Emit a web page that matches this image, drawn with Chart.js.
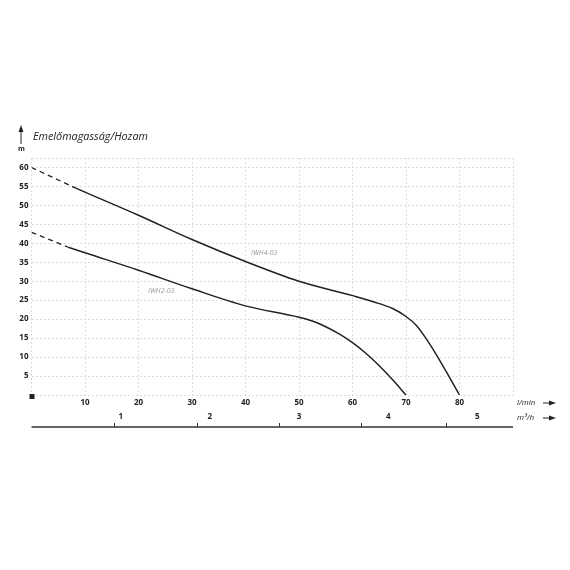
<!DOCTYPE html>
<html>
<head>
<meta charset="utf-8">
<script src="https://cdn.jsdelivr.net/npm/chart.js@4.4.0/dist/chart.umd.min.js"></script>
<style>
    html, body { margin: 0; padding: 0; background: #fff; }
    #wrap { width: 570px; height: 570px; }
</style>
</head>
<body>
<div id="wrap"><canvas id="pump"></canvas></div>
<script>
// Dataset (flow in l/min, head in m)
const iwh4DashFlow = [0, 7.6];
const iwh4DashHead = [60, 55];
const iwh4Flow = [7.6, 10, 20, 30, 40, 50, 60, 65, 67.5, 70, 71.9, 73.7, 75.6, 77.5, 80];
const iwh4Head = [55, 53.5, 47.4, 41, 35.2, 30, 26.2, 24.1, 22.8, 20.7, 18.4, 15, 10.8, 6.2, 0];

const iwh2DashFlow = [0, 7];
const iwh2DashHead = [42.9, 38.9];
const iwh2Flow = [7, 10, 20, 30, 40, 50, 52.5, 55, 57.5, 60, 62.5, 65, 67.5, 70];
const iwh2Head = [38.9, 37.5, 32.9, 28, 23.5, 20.5, 19.5, 18, 16.1, 13.8, 11, 7.7, 4, 0];

// Second axis: m3/h labels and the tick marks under them (marks given in l/min)
const m3hLabels = [1, 2, 3, 4, 5];
const m3hTickMarks = [15.5, 31, 46.3, 61.6, 77.5];

const curveLabels = ["IWH4-03", "IWH2-03"];

// Turn two arrays into {x, y} points
function toPoints(xs, ys) {
    return xs.map((x, i) => ({ x: x, y: ys[i] }));
}

// Extra drawing: title, arrows, unit labels, m3/h line
const extras = {
    id: "extras",
    afterDraw(chart) {
        const ctx = chart.ctx;
        const x = chart.scales.x;
        const y = chart.scales.y;
        ctx.save();

        // Up arrow + title
        ctx.strokeStyle = "#222";
        ctx.fillStyle = "#222";
        ctx.lineWidth = 1;
        ctx.beginPath();
        ctx.moveTo(21, 144);
        ctx.lineTo(21, 130);
        ctx.stroke();
        ctx.beginPath();
        ctx.moveTo(21, 125);
        ctx.lineTo(18.5, 132);
        ctx.lineTo(23.5, 132);
        ctx.closePath();
        ctx.fill();

        ctx.font = "italic 10.8px 'Open Sans'";
        ctx.textBaseline = "middle";
        ctx.textAlign = "left";
        ctx.fillStyle = "#222";
        ctx.fillText("Emelőmagasság/Hozam", 33, 137);

        ctx.font = "bold 7px 'Open Sans'";
        ctx.fillText("m", 18, 149);

        // Origin square
        ctx.fillRect(x.left - 2, y.bottom - 1, 5, 5);

        // Curve names
        ctx.font = "italic 7px 'Open Sans'";
        ctx.fillStyle = "#999";
        ctx.fillText(curveLabels[0], 251, 253);
        ctx.fillText(curveLabels[1], 148, 291);

        // Unit labels with right arrows
        ctx.fillStyle = "#222";
        ctx.font = "italic 8px 'Open Sans'";
        ctx.fillText("l/min", 517, 403);
        ctx.fillText("m³/h", 517, 418);
        [403, 418].forEach(ay => {
            ctx.beginPath();
            ctx.moveTo(543, ay);
            ctx.lineTo(550, ay);
            ctx.stroke();
            ctx.beginPath();
            ctx.moveTo(556, ay);
            ctx.lineTo(549, ay - 2.5);
            ctx.lineTo(549, ay + 2.5);
            ctx.closePath();
            ctx.fill();
        });

        // m3/h base line and its tick marks
        ctx.strokeStyle = "#333";
        ctx.lineWidth = 1.5;
        ctx.beginPath();
        ctx.moveTo(x.left, 427);
        ctx.lineTo(x.right, 427);
        ctx.stroke();
        ctx.lineWidth = 1;
        m3hTickMarks.forEach(v => {
            const px = Math.round(x.getPixelForValue(v)) + 0.5;
            ctx.beginPath();
            ctx.moveTo(px, 427);
            ctx.lineTo(px, 423);
            ctx.stroke();
        });
        ctx.restore();
    }
};

const gridStyle = { color: "#dedede", lineWidth: 1, drawTicks: false };
const borderStyle = { display: false, dash: [2, 2] };
const tickFont = { family: "'Open Sans'", size: 8, weight: "bold" };

let canvas = document.getElementById("pump").getContext("2d");
let chart = new Chart(canvas, {
    type: "line",
    data: {
        datasets: [
            {
                data: toPoints(iwh4DashFlow, iwh4DashHead),
                borderColor: "#222",
                borderWidth: 1.3,
                borderDash: [5, 4],
                pointRadius: 0
            },
            {
                data: toPoints(iwh4Flow, iwh4Head),
                borderColor: "#222",
                borderWidth: 1.5,
                cubicInterpolationMode: "monotone",
                pointRadius: 0
            },
            {
                data: toPoints(iwh2DashFlow, iwh2DashHead),
                borderColor: "#222",
                borderWidth: 1.3,
                borderDash: [5, 4],
                pointRadius: 0
            },
            {
                data: toPoints(iwh2Flow, iwh2Head),
                borderColor: "#222",
                borderWidth: 1.5,
                cubicInterpolationMode: "monotone",
                pointRadius: 0
            }
        ]
    },
    options: {
        responsive: true,
        maintainAspectRatio: false,
        animation: false,
        layout: { padding: { top: 158, left: 0, right: 57, bottom: 141 } },
        plugins: {
            legend: { display: false },
            tooltip: { enabled: false }
        },
        scales: {
            x: {
                type: "linear",
                position: "bottom",
                min: 0,
                max: 90,
                grid: gridStyle,
                border: borderStyle,
                afterFit: (scale) => { scale.height = 14; },
                ticks: {
                    stepSize: 10,
                    padding: 3,
                    color: "#222",
                    font: tickFont,
                    maxRotation: 0,
                    callback: (v) => (v > 0 && v < 90 ? v : "")
                }
            },
            x2: {
                type: "linear",
                position: "bottom",
                min: 0,
                max: 90 / 16.667,
                grid: { display: false, drawTicks: false },
                border: { display: false },
                afterFit: (scale) => { scale.height = 20; },
                afterBuildTicks: (scale) => {
                    scale.ticks = m3hLabels.map(v => ({ value: v }));
                },
                ticks: {
                    padding: 3,
                    color: "#222",
                    font: tickFont,
                    maxRotation: 0,
                    autoSkip: false,
                    callback: (v) => v
                }
            },
            y: {
                type: "linear",
                min: 0,
                max: 62.5,
                grid: gridStyle,
                border: borderStyle,
                afterFit: (scale) => { scale.width = 31.5; },
                ticks: {
                    stepSize: 5,
                    padding: 3,
                    color: "#222",
                    font: tickFont,
                    callback: (v) => (v > 0 && v % 5 === 0 ? v : "")
                }
            }
        }
    },
    plugins: [extras]
});
</script>
</body>
</html>
